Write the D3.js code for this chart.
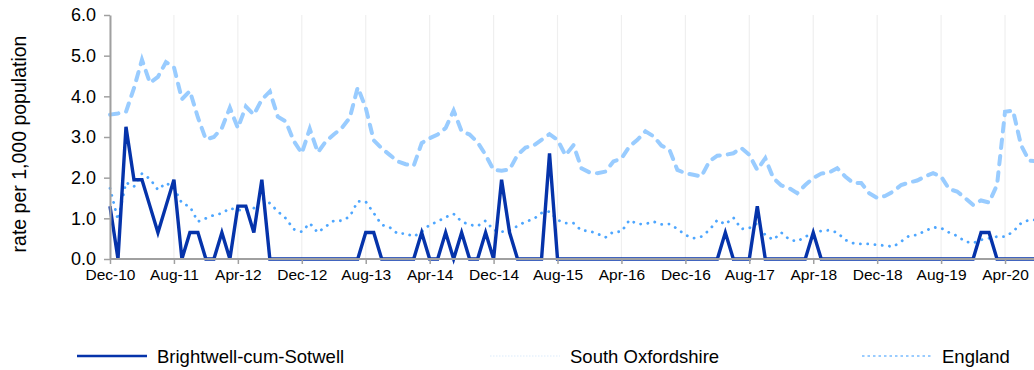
<!DOCTYPE html>
<html>
<head>
<meta charset="utf-8">
<script src="https://cdn.jsdelivr.net/npm/d3@7"></script>
<style>
  html, body { margin: 0; padding: 0; background: #fff; }
  svg { display: block; font-family: "Liberation Sans", Arial, sans-serif; }
</style>
</head>
<body>
<svg id="chart" width="1034" height="370"></svg>
<script>
// Monthly rates per 1,000 population, Dec-10 to Aug-20
const months = [
  "Dec-10","Jan-11","Feb-11","Mar-11","Apr-11","May-11","Jun-11","Jul-11","Aug-11","Sep-11","Oct-11","Nov-11",
  "Dec-11","Jan-12","Feb-12","Mar-12","Apr-12","May-12","Jun-12","Jul-12","Aug-12","Sep-12","Oct-12","Nov-12",
  "Dec-12","Jan-13","Feb-13","Mar-13","Apr-13","May-13","Jun-13","Jul-13","Aug-13","Sep-13","Oct-13","Nov-13",
  "Dec-13","Jan-14","Feb-14","Mar-14","Apr-14","May-14","Jun-14","Jul-14","Aug-14","Sep-14","Oct-14","Nov-14",
  "Dec-14","Jan-15","Feb-15","Mar-15","Apr-15","May-15","Jun-15","Jul-15","Aug-15","Sep-15","Oct-15","Nov-15",
  "Dec-15","Jan-16","Feb-16","Mar-16","Apr-16","May-16","Jun-16","Jul-16","Aug-16","Sep-16","Oct-16","Nov-16",
  "Dec-16","Jan-17","Feb-17","Mar-17","Apr-17","May-17","Jun-17","Jul-17","Aug-17","Sep-17","Oct-17","Nov-17",
  "Dec-17","Jan-18","Feb-18","Mar-18","Apr-18","May-18","Jun-18","Jul-18","Aug-18","Sep-18","Oct-18","Nov-18",
  "Dec-18","Jan-19","Feb-19","Mar-19","Apr-19","May-19","Jun-19","Jul-19","Aug-19","Sep-19","Oct-19","Nov-19",
  "Dec-19","Jan-20","Feb-20","Mar-20","Apr-20","May-20","Jun-20","Jul-20","Aug-20"
];

const tickLabels = ["Dec-10","Aug-11","Apr-12","Dec-12","Aug-13","Apr-14","Dec-14","Aug-15",
  "Apr-16","Dec-16","Aug-17","Apr-18","Dec-18","Aug-19","Apr-20"];

const yTicks = [0, 1, 2, 3, 4, 5, 6];

const brightwell = [
  1.3, 0, 3.25, 1.95, 1.95, 1.3, 0.65, 1.3, 1.95, 0, 0.65, 0.65,
  0, 0, 0.65, 0, 1.3, 1.3, 0.65, 1.95, 0, 0, 0, 0,
  0, 0, 0, 0, 0, 0, 0, 0, 0.65, 0.65, 0, 0,
  0, 0, 0, 0.65, 0, 0, 0.65, 0, 0.65, 0, 0, 0.65,
  0, 1.95, 0.65, 0, 0, 0, 0, 2.6, 0, 0, 0, 0,
  0, 0, 0, 0, 0, 0, 0, 0, 0, 0, 0, 0,
  0, 0, 0, 0, 0, 0.65, 0, 0, 0, 1.3, 0, 0,
  0, 0, 0, 0, 0.65, 0, 0, 0, 0, 0, 0, 0,
  0, 0, 0, 0, 0, 0, 0, 0, 0, 0, 0, 0,
  0, 0.65, 0.65, 0, 0, 0, 0, 0, 0
];

const southOxfordshire = [
  1.74, 0.96, 1.88, 1.78, 2.1, 1.97, 1.7, 1.87, 1.75, 1.37, 1.29, 0.92,
  1.0, 1.08, 1.12, 1.25, 1.2, 1.2, 1.25, 1.5, 1.37, 1.17, 1.0, 0.73,
  0.67, 0.88, 0.65, 0.8, 0.94, 0.94, 1.04, 1.42, 1.41, 1.13, 0.84, 0.78,
  0.62, 0.63, 0.55, 0.67, 0.84, 0.92, 1.03, 1.11, 0.92, 0.84, 0.81, 0.94,
  0.71, 0.67, 0.7, 0.81, 0.92, 0.98, 1.13, 1.17, 0.96, 0.88, 0.88, 0.7,
  0.69, 0.62, 0.53, 0.67, 0.67, 0.96, 0.86, 0.86, 0.92, 0.85, 0.86, 0.74,
  0.59, 0.51, 0.55, 0.71, 0.96, 0.85, 1.02, 0.74, 0.76, 0.88, 0.59, 0.47,
  0.65, 0.48, 0.43, 0.55, 0.63, 0.69, 0.71, 0.65, 0.47, 0.39, 0.37, 0.37,
  0.35, 0.33, 0.3, 0.43, 0.57, 0.59, 0.69, 0.78, 0.76, 0.65, 0.57, 0.43,
  0.39, 0.47, 0.51, 0.55, 0.55, 0.67, 0.88, 0.96, 0.96
];

const england = [
  3.55, 3.58, 3.62, 4.2, 4.9, 4.33, 4.48, 4.84, 4.72, 3.93, 4.13, 3.48,
  2.94, 3.0, 3.22, 3.72, 3.22, 3.75, 3.55, 3.92, 4.12, 3.5, 3.38, 2.9,
  2.6, 3.2, 2.62, 2.89, 3.06, 3.22, 3.47, 4.22, 3.72, 2.92, 2.72, 2.56,
  2.4, 2.33, 2.29, 2.85, 2.97, 3.06, 3.22, 3.65, 3.14, 3.06, 2.87, 2.56,
  2.19, 2.17, 2.2, 2.56, 2.74, 2.79, 2.93, 3.07, 2.93, 2.55, 2.8, 2.23,
  2.13, 2.11, 2.15, 2.4, 2.47, 2.77, 2.93, 3.14, 3.02, 2.79, 2.69, 2.19,
  2.11, 2.07, 2.03, 2.4, 2.54, 2.56, 2.6, 2.73, 2.56, 2.19, 2.48, 1.99,
  1.81, 1.74, 1.62, 1.82, 1.99, 2.1, 2.13, 2.23, 2.03, 1.87, 1.87, 1.62,
  1.5, 1.55, 1.66, 1.82, 1.88, 1.93, 2.03, 2.11, 2.03, 1.72, 1.66, 1.5,
  1.33, 1.44, 1.39, 1.82, 3.62, 3.65, 2.8, 2.42, 2.4
];

const seriesNames = ["Brightwell-cum-Sotwell", "South Oxfordshire", "England"];

(function draw() {
  const svg = d3.select("#chart");
  const W = 1034;
  const plotLeft = 110, plotTop = 15, plotBottom = 259;

  const x = d3.scalePoint().domain(months).range([plotLeft, 1037]);
  const y = d3.scaleLinear().domain([0, 6]).range([plotBottom, plotTop]);

  // vertical gridlines at labelled months
  svg.append("g")
    .selectAll("line")
    .data(tickLabels)
    .join("line")
    .attr("x1", d => x(d)).attr("x2", d => x(d))
    .attr("y1", plotTop).attr("y2", plotBottom)
    .attr("stroke", "#efefef")
    .attr("stroke-width", 1.2);

  const line = d3.line()
    .x((d, i) => x(months[i]))
    .y(d => y(d));

  const series = [
    { name: seriesNames[2], values: england, color: "#99ccff", width: 4, dash: "8.5 8", cap: "round" },
    { name: seriesNames[1], values: southOxfordshire, color: "#4da6ff", width: 2.8, dash: "0.1 7.2", cap: "round" },
    { name: seriesNames[0], values: brightwell, color: "#0533aa", width: 3.4, dash: null, cap: "butt" }
  ];

  svg.append("g")
    .selectAll("path")
    .data(series)
    .join("path")
    .attr("d", d => line(d.values))
    .attr("fill", "none")
    .attr("stroke", d => d.color)
    .attr("stroke-width", d => d.width)
    .attr("stroke-dasharray", d => d.dash)
    .attr("stroke-linecap", d => d.cap)
    .attr("stroke-linejoin", "miter");

  // y axis
  const yAxis = svg.append("g")
    .attr("transform", `translate(${plotLeft},0)`)
    .call(d3.axisLeft(y).tickValues(yTicks).tickFormat(d3.format(".1f")).tickSize(6).tickSizeOuter(0).tickPadding(8));
  yAxis.select(".domain").attr("stroke", "#a0a0a0").attr("stroke-width", 2);
  yAxis.selectAll(".tick line").attr("stroke", "#a0a0a0").attr("stroke-width", 1.5);
  yAxis.selectAll(".tick text").attr("font-size", 18).attr("fill", "#000")
    .attr("font-family", "'Liberation Sans', Arial, sans-serif");

  // x axis
  const xAxis = svg.append("g")
    .attr("transform", `translate(0,${plotBottom})`)
    .call(d3.axisBottom(x).tickValues(tickLabels).tickSize(5).tickSizeOuter(0).tickPadding(5));
  xAxis.select(".domain").attr("d", `M${plotLeft},0H${W}`).attr("stroke", "#a0a0a0").attr("stroke-width", 2);
  xAxis.selectAll(".tick line").attr("stroke", "#a0a0a0").attr("stroke-width", 1.5);
  xAxis.selectAll(".tick text").attr("font-size", 15.5).attr("fill", "#000")
    .attr("font-family", "'Liberation Sans', Arial, sans-serif");

  // y axis title
  svg.append("text")
    .attr("transform", `translate(26,${(plotTop + plotBottom) / 2 + 7}) rotate(-90)`)
    .attr("text-anchor", "middle")
    .attr("font-size", 19.5)
    .attr("fill", "#000")
    .text("rate per 1,000 population");

  // legend
  const legendItems = [
    { name: seriesNames[0], x: 77, color: "#0533aa", width: 2.5, dash: null },
    { name: seriesNames[1], x: 490, color: "#dcebfb", width: 1.2, dash: "1.5 1.5" },
    { name: seriesNames[2], x: 862, color: "#99ccff", width: 2, dash: "2.5 3" }
  ];
  const lg = svg.append("g").selectAll("g").data(legendItems).join("g")
    .attr("transform", d => `translate(${d.x},356)`);
  lg.append("line")
    .attr("x1", 0).attr("x2", 70).attr("y1", 0).attr("y2", 0)
    .attr("stroke", d => d.color)
    .attr("stroke-width", d => d.width)
    .attr("stroke-dasharray", d => d.dash);
  lg.append("text")
    .attr("x", 80).attr("y", 6.5)
    .attr("font-size", 18.5)
    .attr("fill", "#000")
    .text(d => d.name);
})();
</script>
</body>
</html>
